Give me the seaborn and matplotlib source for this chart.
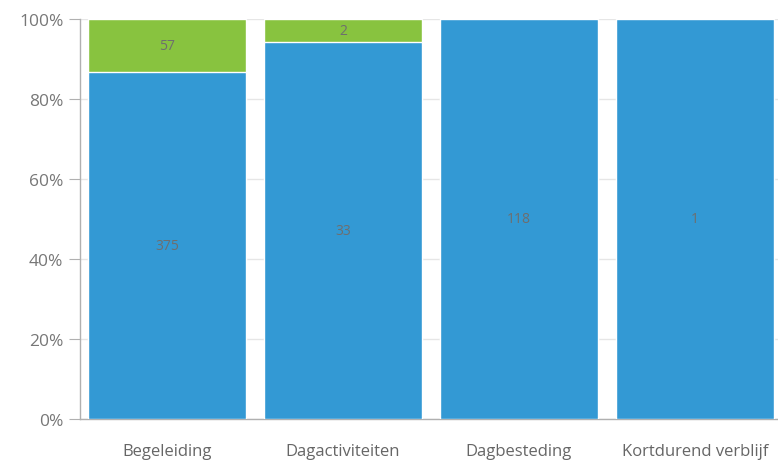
import pandas as pd
import matplotlib.pyplot as plt
import seaborn as sns

# ----------------------------
# Data
# ----------------------------
categories = ["Begeleiding", "Dagactiviteiten", "Dagbesteding", "Kortdurend verblijf"]
blue_counts = [375, 33, 118, 1]
green_counts = [57, 2, 0, 0]

df = pd.DataFrame({"cat": categories, "blue": blue_counts, "green": green_counts})
df["total"] = df["blue"] + df["green"]
df["blue_pct"] = df["blue"] / df["total"] * 100
df["top_pct"] = 100.0

sns.set_style("white")
plt.rcParams["font.family"] = ["Open Sans", "DejaVu Sans"]

fig = plt.figure(figsize=(7.78, 4.64), dpi=100)
ax = fig.add_axes([80 / 778, 44 / 464, 698 / 778, 400 / 464])

blue = "#3399d4"
green = "#88c33f"
grey = "#6e6e6e"

# green = full stack, blue drawn on top
sns.barplot(data=df, x="cat", y="top_pct", color=green, width=0.898,
            saturation=1, ax=ax, zorder=2)
sns.barplot(data=df, x="cat", y="blue_pct", color=blue, width=0.898,
            saturation=1, ax=ax, zorder=3)

for i, row in df.iterrows():
    ax.text(i, row["blue_pct"] / 2, str(row["blue"]), ha="center", va="center",
            fontsize=10, color=grey, zorder=5)
    if row["green"] > 0:
        mid = row["blue_pct"] + (100 - row["blue_pct"]) / 2
        ax.text(i, mid, str(row["green"]), ha="center", va="center",
                fontsize=10, color=grey, zorder=5)

ax.set_xlim(-0.494, 3.472)
ax.set_ylim(0, 100)
ax.set_yticks([0, 20, 40, 60, 80, 100])
ax.set_yticklabels([f"{v}%" for v in [0, 20, 40, 60, 80, 100]])
ax.yaxis.grid(True, color="#e6e6e6", linewidth=1, zorder=0)
ax.set_axisbelow(True)
ax.set_xlabel("")
ax.set_ylabel("")

for s in ["top", "right"]:
    ax.spines[s].set_visible(False)
for s in ["left", "bottom"]:
    ax.spines[s].set_color("#b0b0b0")
    ax.spines[s].set_linewidth(1)

ax.tick_params(axis="y", length=8, color="#b0b0b0", labelsize=12.5, labelcolor="#777777", pad=4, left=True)
ax.tick_params(axis="x", length=0, labelsize=12, labelcolor="#666666", pad=17)

plt.savefig("out.png", dpi=100)
plt.close()
